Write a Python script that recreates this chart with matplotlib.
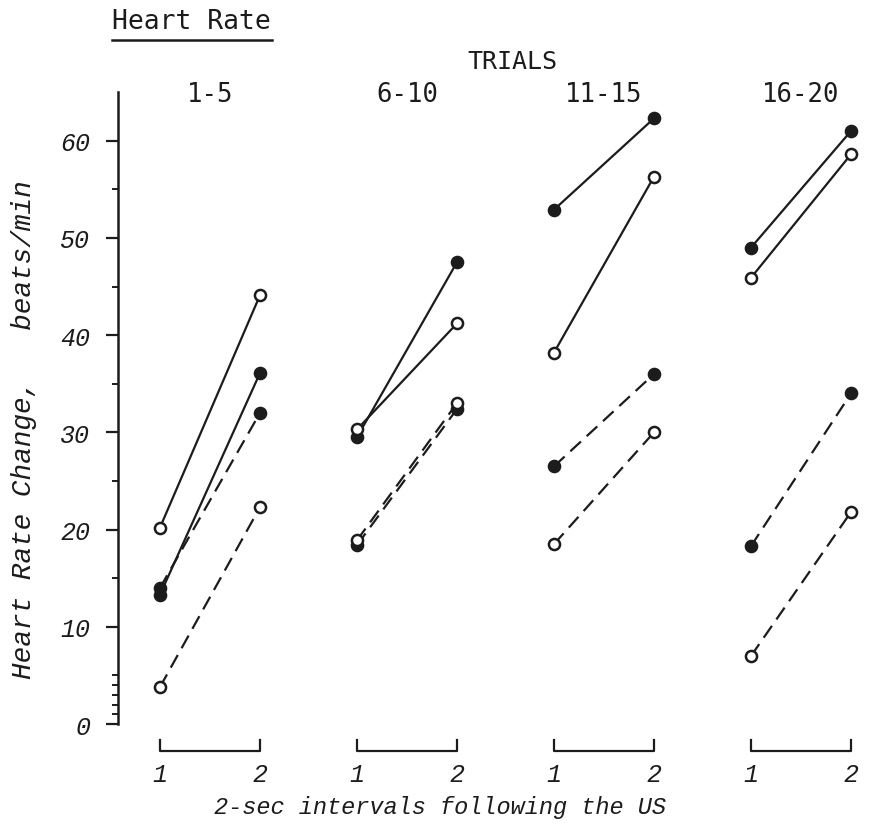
import numpy as np
import matplotlib
matplotlib.use('Agg')
import matplotlib.pyplot as plt

# trial blocks and the two 2-sec intervals after the US
groups = ['1-5', '6-10', '11-15', '16-20']
intervals = ['1', '2']

# heart rate change (beats/min) at interval 1 and interval 2, one value per block
filled_solid_1 = [13.3, 29.5, 52.9, 49.0]
filled_solid_2 = [36.1, 47.5, 62.3, 61.0]
open_solid_1 = [20.2, 30.3, 38.2, 45.9]
open_solid_2 = [44.1, 41.2, 56.3, 58.6]
filled_dashed_1 = [14.0, 18.4, 26.5, 18.3]
filled_dashed_2 = [32.0, 32.4, 36.0, 34.0]
open_dashed_1 = [3.8, 18.9, 18.5, 7.0]
open_dashed_2 = [22.3, 33.0, 30.0, 21.8]

ink = '#1c1c1c'
script_font = 'Liberation Mono'
type_font = 'DejaVu Sans Mono'
group_gap = 1.97

fig = plt.figure(figsize=(8.7, 8.37), dpi=100)
ax = fig.add_axes([0.1356, 0.1338, 0.8644, 0.755])

series = [
    (filled_solid_1, filled_solid_2, '-', ink),
    (open_solid_1, open_solid_2, '-', 'white'),
    (filled_dashed_1, filled_dashed_2, (0, (6.5, 3.5)), ink),
    (open_dashed_1, open_dashed_2, (0, (6.5, 3.5)), 'white'),
]

for v1, v2, ls, face in series:
    for g in range(len(groups)):
        x0 = g * group_gap
        ax.plot([x0, x0 + 1], [v1[g], v2[g]], color=ink, lw=1.6, ls=ls,
                marker='o', ms=8, mfc=face, mec=ink, mew=1.8, clip_on=False,
                zorder=3)

ax.set_xlim(-0.42, 7.1)
ax.set_ylim(0, 65)

# y axis
ax.set_yticks(np.arange(0, 61, 10))
ax.set_yticks([1, 2, 3, 4, 5, 15, 25, 35, 45, 55], minor=True)
ax.set_yticklabels([str(v) for v in range(0, 61, 10)], fontfamily=script_font,
                   fontstyle='italic', fontsize=18, color=ink)
ax.tick_params(axis='y', which='major', direction='out', length=9, width=1.6,
               pad=11, color=ink)
ax.tick_params(axis='y', which='minor', direction='out', length=4, width=1.4,
               color=ink)
ax.spines['left'].set_linewidth(1.8)
ax.spines['left'].set_color(ink)
for side in ['top', 'right', 'bottom']:
    ax.spines[side].set_visible(False)

ax.set_ylabel('Heart Rate Change,   beats/min', fontfamily=script_font,
              fontstyle='italic', fontsize=20, color=ink)
ax.yaxis.set_label_coords(-0.108, 0.467)

# x axis: interval numbers under each block
xpos = [g * group_gap + i for g in range(len(groups)) for i in range(len(intervals))]
ax.set_xticks(xpos)
ax.set_xticklabels(intervals * len(groups), fontfamily=script_font,
                   fontstyle='italic', fontsize=18, color=ink)
ax.tick_params(axis='x', length=0, pad=27)

# bracket under each block
xt = ax.get_xaxis_transform()
for g in range(len(groups)):
    x0 = g * group_gap
    ax.plot([x0, x0, x0 + 1, x0 + 1], [-0.025, -0.043, -0.043, -0.025],
            transform=xt, color=ink, lw=1.6, clip_on=False)
    ax.text(x0 + 0.5, 0.997, groups[g], transform=xt, ha='center',
            va='center', fontfamily=type_font, fontsize=18.5, color=ink)

ax.set_xlabel('2-sec intervals following the US', fontfamily=script_font,
              fontstyle='italic', fontsize=17, color=ink)
ax.xaxis.set_label_coords(0.428, -0.112)

fig.text(0.589, 0.926, 'TRIALS', ha='center', va='center',
         fontfamily=type_font, fontsize=18, color=ink)
fig.text(0.2205, 0.974, 'Heart Rate', ha='center', va='center',
         fontfamily=type_font, fontsize=19, color=ink)
fig.add_artist(plt.Line2D([0.129, 0.313], [0.951, 0.951], color=ink, lw=1.8))

fig.savefig('out.png', dpi=100, facecolor='white')
